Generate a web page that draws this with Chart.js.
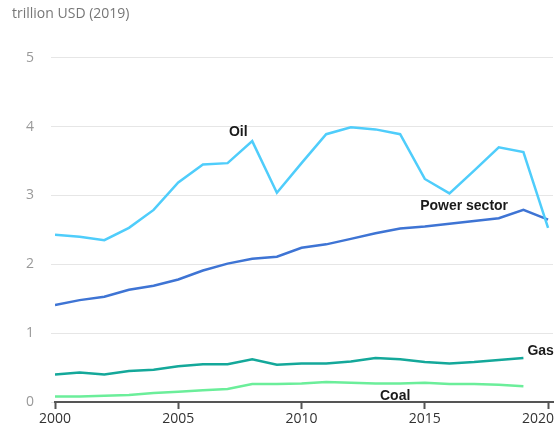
<!DOCTYPE html>
<html>
<head>
<meta charset="utf-8">
<script src="https://cdn.jsdelivr.net/npm/chart.js@4"></script>
<style>
  html, body { margin: 0; padding: 0; background: #fff; }
  #wrap { width: 555px; height: 430px; }
</style>
</head>
<body>
<div id="wrap"><canvas id="chart" width="555" height="430"></canvas></div>
<script>
const years = [2000, 2001, 2002, 2003, 2004, 2005, 2006, 2007, 2008, 2009, 2010,
  2011, 2012, 2013, 2014, 2015, 2016, 2017, 2018, 2019, 2020];
const oil = [2.43, 2.40, 2.35, 2.53, 2.79, 3.19, 3.45, 3.47, 3.79, 3.04, 3.47,
  3.89, 3.99, 3.96, 3.89, 3.24, 3.03, 3.36, 3.70, 3.63, 2.53];
const power = [1.41, 1.48, 1.53, 1.63, 1.69, 1.78, 1.91, 2.01, 2.08, 2.11, 2.24,
  2.29, 2.37, 2.45, 2.52, 2.55, 2.59, 2.63, 2.67, 2.79, 2.65];
const gas = [0.40, 0.43, 0.40, 0.45, 0.47, 0.52, 0.55, 0.55, 0.62, 0.54, 0.56,
  0.56, 0.59, 0.64, 0.62, 0.58, 0.56, 0.58, 0.61, 0.64];
const coal = [0.08, 0.08, 0.09, 0.10, 0.13, 0.15, 0.17, 0.19, 0.26, 0.26, 0.27,
  0.29, 0.28, 0.27, 0.27, 0.28, 0.26, 0.26, 0.25, 0.23];
const xTickYears = [2000, 2005, 2010, 2015, 2020];
const unitLabel = 'trillion USD (2019)';

function points(values) {
  return values.map((v, i) => ({ x: years[i], y: v }));
}

// name label for each line: which point it hangs off and how far
const seriesLabels = [
  { text: 'Oil', ds: 0, idx: 8, dx: -14, dy: -9, align: 'center' },
  { text: 'Power sector', ds: 1, idx: 17, dx: -10, dy: -15, align: 'center' },
  { text: 'Gas', ds: 2, idx: 19, dx: 4, dy: -7, align: 'left' },
  { text: 'Coal', ds: 3, idx: 14, dx: -5, dy: 13, align: 'center' }
];

const labelPlugin = {
  id: 'labels',
  afterDraw(chart) {
    const ctx = chart.ctx;
    const xs = chart.scales.x;
    ctx.save();
    // x tick labels, last one kept inside the canvas
    ctx.font = '14px "Open Sans"';
    ctx.fillStyle = '#333';
    ctx.textBaseline = 'middle';
    ctx.textAlign = 'center';
    xTickYears.forEach(v => {
      const w = ctx.measureText(String(v)).width;
      const px = Math.min(xs.getPixelForValue(v), chart.width - 1 - w / 2);
      ctx.fillText(String(v), px, 419);
    });
    // series names
    ctx.font = 'bold 14px "Liberation Sans"';
    ctx.fillStyle = '#1a1a1a';
    seriesLabels.forEach(l => {
      const pt = chart.getDatasetMeta(l.ds).data[l.idx];
      ctx.textAlign = l.align;
      ctx.fillText(l.text, pt.x + l.dx, pt.y + l.dy);
    });
    ctx.restore();
  }
};

new Chart(document.getElementById('chart'), {
  type: 'line',
  data: {
    datasets: [
      { label: 'Oil', data: points(oil), borderColor: '#4fcdfb' },
      { label: 'Power sector', data: points(power), borderColor: '#3e74d4' },
      { label: 'Gas', data: points(gas), borderColor: '#14a89a' },
      { label: 'Coal', data: points(coal), borderColor: '#6bee9a' }
    ]
  },
  options: {
    responsive: false,
    animation: false,
    events: [],
    elements: {
      line: { borderWidth: 2.5, tension: 0, fill: false },
      point: { radius: 0 }
    },
    layout: { padding: { left: 12, right: 2, top: 0, bottom: 0 } },
    plugins: {
      legend: { display: false },
      tooltip: { enabled: false },
      title: {
        display: true,
        text: unitLabel,
        align: 'start',
        color: '#777',
        font: { family: 'Open Sans', size: 14, weight: 'normal' },
        padding: { top: 6, bottom: 35 }
      }
    },
    scales: {
      x: {
        type: 'linear',
        min: 2000,
        max: 2020.2,
        ticks: { display: false, stepSize: 5, includeBounds: false },
        grid: { drawOnChartArea: false, drawTicks: true, tickLength: 7, tickColor: '#555', tickWidth: 2 },
        border: { display: true, color: '#555', width: 2 },
        afterFit(scale) { scale.height = 28; }
      },
      y: {
        min: 0,
        max: 5,
        ticks: {
          stepSize: 1,
          color: '#999',
          padding: 17,
          font: { family: 'Open Sans', size: 14 }
        },
        grid: { color: '#e6e6e6', tickLength: 4, tickColor: '#e6e6e6' },
        border: { display: false },
        afterFit(scale) { scale.width = 43; }
      }
    }
  },
  plugins: [labelPlugin]
});
</script>
</body>
</html>
